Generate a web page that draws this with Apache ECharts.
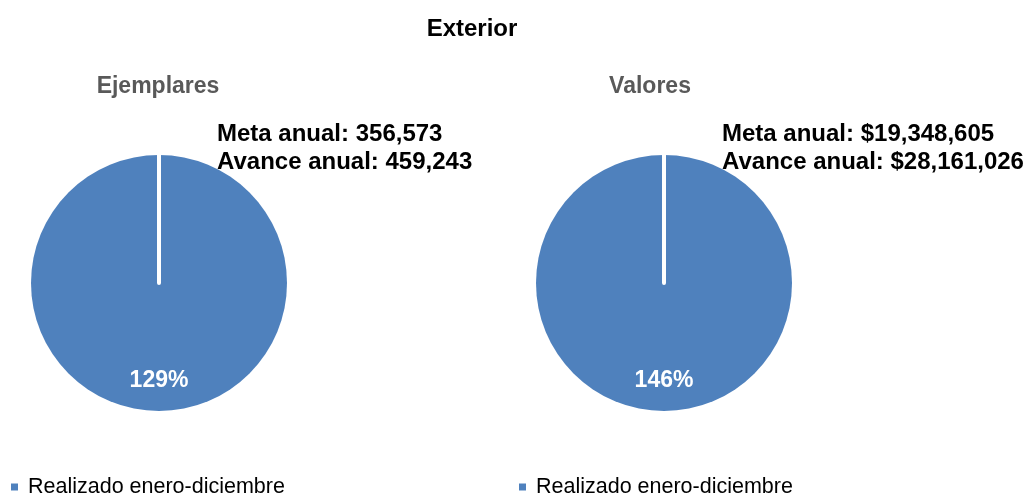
<!DOCTYPE html>
<html>
<head>
<meta charset="utf-8">
<title>Exterior</title>
<script src="https://cdn.jsdelivr.net/npm/echarts@6/dist/echarts.min.js"></script>
<style>
  html, body { margin: 0; padding: 0; background: #fff; }
  #chart { width: 1025px; height: 497px; }
</style>
</head>
<body>
<div id="chart"></div>
<script>
// datos
const titulos = ['Ejemplares', 'Valores']
const metas = [356573, 19348605]
const avances = [459243, 28161026]
const prefijos = ['', '$']
const serieNombre = 'Realizado enero-diciembre'

const fuente = '"Liberation Sans", Arial, sans-serif'
const azul = '#4F81BD'
const centrosX = [159, 664]

const chart = echarts.init(document.getElementById('chart'))

const fmt = (n, p) => p + n.toLocaleString('en-US')

const titles = [{
  text: 'Exterior',
  left: 467,
  top: 12,
  textAlign: 'center',
  textStyle: { fontFamily: fuente, fontSize: 24, fontWeight: 'bold', color: '#000' }
}]
const series = []
const legends = []

titulos.forEach((t, i) => {
  const pct = Math.round(avances[i] / metas[i] * 100)
  // subtitulo
  titles.push({
    text: t,
    left: i ? 645 : 153,
    top: 70,
    textAlign: 'center',
    textStyle: { fontFamily: fuente, fontSize: 23, fontWeight: 'bold', color: '#595959' }
  })
  // meta / avance
  titles.push({
    text: 'Meta anual: ' + fmt(metas[i], prefijos[i]) + '\nAvance anual: ' + fmt(avances[i], prefijos[i]),
    left: centrosX[i] + 53,
    top: 115,
    textStyle: { fontFamily: fuente, fontSize: 24, fontWeight: 'bold', color: '#000', lineHeight: 28 }
  })
  series.push({
    type: 'pie',
    center: [centrosX[i], 283],
    radius: [0, 128],
    startAngle: 90,
    clockwise: true,
    silent: true,
    avoidLabelOverlap: false,
    labelLine: { show: false },
    label: {
      show: true,
      position: 'inside',
      offset: [0, 31],
      formatter: pct + '%',
      fontFamily: fuente,
      fontSize: 23,
      fontWeight: 'bold',
      color: '#fff'
    },
    data: [
      { name: serieNombre, value: pct, itemStyle: { color: azul } },
      // linea blanca vertical
      { name: 'resto', value: 0, label: { show: false },
        itemStyle: { color: azul, borderColor: '#fff', borderWidth: 4 } }
    ]
  })
  legends.push({
    data: [serieNombre],
    left: i ? 514 : 6,
    top: 471,
    icon: 'rect',
    itemWidth: 7,
    itemHeight: 7,
    selectedMode: false,
    textStyle: { fontFamily: fuente, fontSize: 21.5, color: '#000', padding: [3, 0, 0, 5] }
  })
})

chart.setOption({
  backgroundColor: '#fff',
  animation: false,
  title: titles,
  legend: legends,
  series: series
})
</script>
</body>
</html>
